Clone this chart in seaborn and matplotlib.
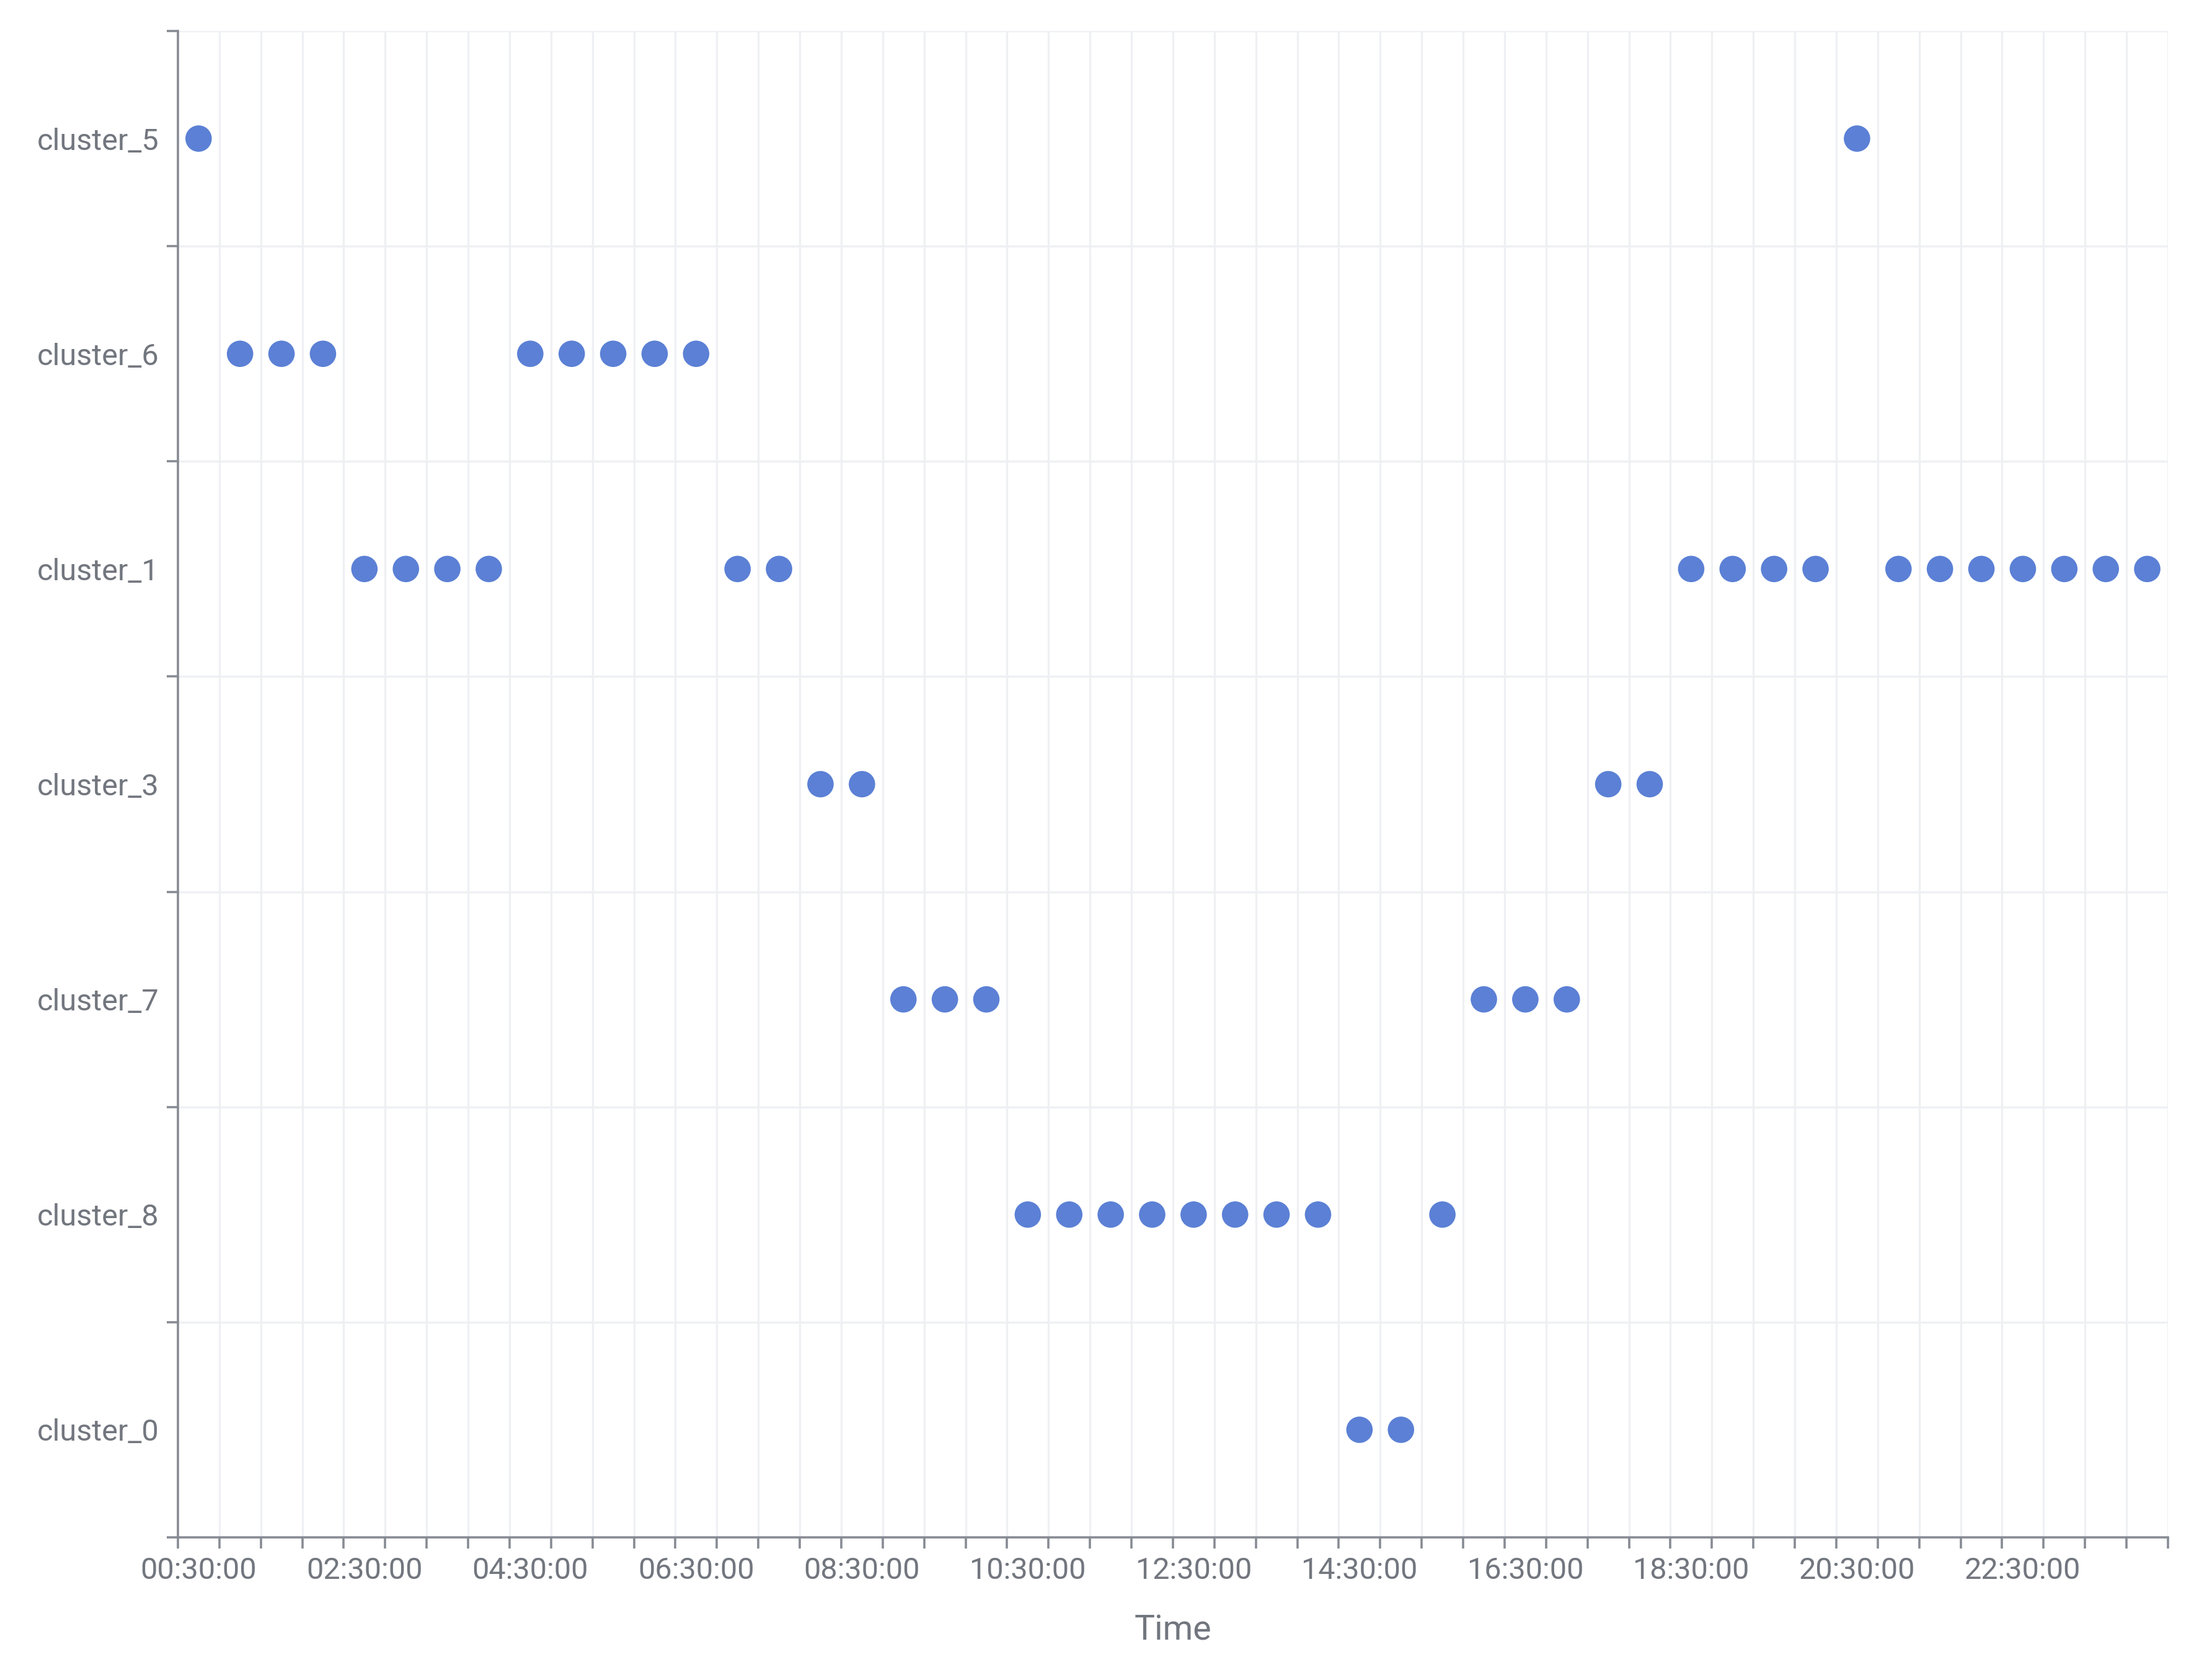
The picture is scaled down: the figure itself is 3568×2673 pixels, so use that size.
import matplotlib
matplotlib.use("Agg")
import matplotlib.pyplot as plt
import seaborn as sns
import pandas as pd
from matplotlib.ticker import FixedLocator, NullFormatter

# time slots, every 30 minutes
times = ["00:30:00", "01:00:00", "01:30:00", "02:00:00", "02:30:00", "03:00:00",
         "03:30:00", "04:00:00", "04:30:00", "05:00:00", "05:30:00", "06:00:00",
         "06:30:00", "07:00:00", "07:30:00", "08:00:00", "08:30:00", "09:00:00",
         "09:30:00", "10:00:00", "10:30:00", "11:00:00", "11:30:00", "12:00:00",
         "12:30:00", "13:00:00", "13:30:00", "14:00:00", "14:30:00", "15:00:00",
         "15:30:00", "16:00:00", "16:30:00", "17:00:00", "17:30:00", "18:00:00",
         "18:30:00", "19:00:00", "19:30:00", "20:00:00", "20:30:00", "21:00:00",
         "21:30:00", "22:00:00", "22:30:00", "23:00:00", "23:30:00", "00:00:00"]

# cluster assigned to each time slot
clusters = ["cluster_5",
            "cluster_6", "cluster_6", "cluster_6",
            "cluster_1", "cluster_1", "cluster_1", "cluster_1",
            "cluster_6", "cluster_6", "cluster_6", "cluster_6", "cluster_6",
            "cluster_1", "cluster_1",
            "cluster_3", "cluster_3",
            "cluster_7", "cluster_7", "cluster_7",
            "cluster_8", "cluster_8", "cluster_8", "cluster_8",
            "cluster_8", "cluster_8", "cluster_8", "cluster_8",
            "cluster_0", "cluster_0",
            "cluster_8",
            "cluster_7", "cluster_7", "cluster_7",
            "cluster_3", "cluster_3",
            "cluster_1", "cluster_1", "cluster_1", "cluster_1",
            "cluster_5",
            "cluster_1", "cluster_1", "cluster_1", "cluster_1",
            "cluster_1", "cluster_1", "cluster_1"]

cluster_order = ["cluster_5", "cluster_6", "cluster_1", "cluster_3",
                 "cluster_7", "cluster_8", "cluster_0"]

df = pd.DataFrame({"Time": times, "Cluster": clusters})

sns.set_theme(style="white")
plt.rcParams["font.family"] = ["Roboto", "DejaVu Sans"]

axis_col = "#878b93"
text_col = "#72767e"
grid_col = "#eef0f3"

fig = plt.figure(figsize=(17.84, 13.365), dpi=200)
ax = fig.add_axes([0.0804, 0.0722, 0.8997, 0.9091])

# fix category order on both axes before drawing
ax.yaxis.update_units(cluster_order)
ax.xaxis.update_units(times)

sns.scatterplot(data=df, x="Time", y="Cluster", ax=ax, s=235,
                color="#5b80d5", edgecolor="none", zorder=3)

n_x = len(times)
n_y = len(cluster_order)
ax.set_xlim(-0.5, n_x - 0.5)
ax.set_ylim(n_y - 0.5, -0.5)

# labels every 2 hours at band centres, ticks and grid at band edges
ax.xaxis.set_major_locator(FixedLocator(list(range(0, n_x, 4))))
ax.set_xticklabels([times[i] for i in range(0, n_x, 4)])
ax.xaxis.set_minor_locator(FixedLocator([i - 0.5 for i in range(n_x + 1)]))
ax.xaxis.set_minor_formatter(NullFormatter())

ax.yaxis.set_major_locator(FixedLocator(list(range(n_y))))
ax.set_yticklabels(cluster_order)
ax.yaxis.set_minor_locator(FixedLocator([i - 0.5 for i in range(n_y + 1)]))
ax.yaxis.set_minor_formatter(NullFormatter())

ax.tick_params(which="major", length=0, labelsize=17.5, labelcolor=text_col)
ax.tick_params(axis="x", which="major", pad=11)
ax.tick_params(axis="y", which="major", pad=11)
ax.tick_params(which="minor", length=6.5, width=1.3, color=axis_col,
               bottom=True, left=True, direction="out")

ax.grid(False, which="major")
ax.grid(True, which="minor", color=grid_col, linewidth=1.2, zorder=0)
ax.set_axisbelow(True)

for side in ["top", "right"]:
    ax.spines[side].set_visible(False)
for side in ["left", "bottom"]:
    ax.spines[side].set_color(axis_col)
    ax.spines[side].set_linewidth(1.3)

ax.set_xlabel("Time", fontsize=20, color=text_col, labelpad=17)
ax.set_ylabel("")

fig.savefig("out.png", dpi=200, facecolor="white")
